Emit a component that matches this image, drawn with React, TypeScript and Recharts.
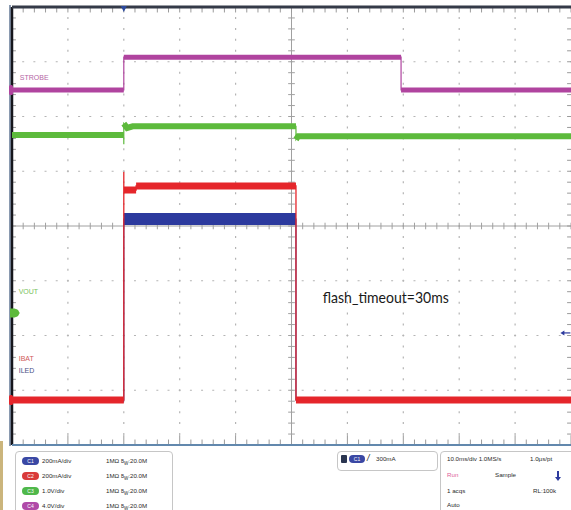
import React from 'react';
import { LineChart, Line, XAxis, YAxis, ReferenceLine, ReferenceDot } from 'recharts';

// ---- axes (time in ms, 10 ms/div; vertical in divisions) ----
const TIME_DOMAIN: [number, number] = [-20, 80];
const DIV_DOMAIN: [number, number] = [-4, 4];
const TIME_GRID = [-10, 0, 10, 20, 40, 50, 60, 70];
const TIME_CENTER = 30;
const DIV_GRID = [-3, -2, -1, 1, 2, 3];

// ---- STROBE (CH4, volts) ----
const strobeTimes = [-20, 0, 0, 49.6, 49.6, 80];
const strobeVolts = [0, 0, 2.4, 2.4, 0, 0];

// ---- VOUT (CH3, volts) ----
const voutTimes = [-20, 0, 0, 0, 0.6, 1.6, 30.8, 30.8, 31.2, 80];
const voutVolts = [3.25, 3.25, 3.08, 3.46, 3.38, 3.41, 3.41, 3.17, 3.23, 3.23];

// ---- IBAT (CH2, mA) ----
const ibatTimes = [-20, 0, 0, 0, 2.2, 2.2, 30.8, 30.8, 80];
const ibatMilliamps = [0, 0, 833, 767, 767, 782, 782, 0, 0];

// ---- ILED (CH1, mA) ----
const iledTimes = [-20, 0, 0, 30.8, 30.8, 80];
const iledMilliamps = [0, 0, 661, 661, 0, 0];

const triggerTime = 0;
const triggerLevelMilliamps = 245;

// ---- channel settings (scale per division, ground offset in divisions) ----
const CH1 = { label: 'ILED', scale: 200, ground: -3.178, color: '#2c3a9e' };
const CH2 = { label: 'IBAT', scale: 200, ground: -3.178, color: '#e5262b' };
const CH3 = { label: 'VOUT', scale: 1, ground: -1.589, color: '#5dba3c' };
const CH4 = { label: 'STROBE', scale: 4, ground: 2.484, color: '#b0449f' };

const panelRows = [
  { ch: 'C1', color: '#3a48a4', scale: '200mA/div' },
  { ch: 'C2', color: '#d93a3a', scale: '200mA/div' },
  { ch: 'C3', color: '#4fb84a', scale: '1.0V/div' },
  { ch: 'C4', color: '#b04aa8', scale: '4.0V/div' },
];

type Pt = { t: number; y: number | null };
type Ch = { scale: number; ground: number; color: string; label: string };

function toDiv(times: number[], vals: number[], ch: Ch): Pt[] {
  return times.map((t, i) => ({ t, y: ch.ground + vals[i] / ch.scale }));
}

// horizontal (non-vertical) segments only, separated by gaps
function bandOf(pts: Pt[], keep: (a: Pt, b: Pt) => boolean = () => true): Pt[] {
  const out: Pt[] = [];
  let last: Pt | null = null;
  for (let i = 0; i < pts.length - 1; i++) {
    const a = pts[i];
    const b = pts[i + 1];
    if (a.t === b.t || !keep(a, b)) continue;
    if (last !== a) {
      if (out.length) out.push({ t: a.t, y: null });
      out.push(a);
    }
    out.push(b);
    last = b;
  }
  return out;
}

const strobe = toDiv(strobeTimes, strobeVolts, CH4);
const vout = toDiv(voutTimes, voutVolts, CH3);
const ibat = toDiv(ibatTimes, ibatMilliamps, CH2);
const iled = toDiv(iledTimes, iledMilliamps, CH1);

const range = (a: number, b: number, step: number) => {
  const r: number[] = [];
  for (let v = a; v <= b + 1e-9; v += step) r.push(Math.round(v * 1000) / 1000);
  return r;
};
const minorT = range(-20, 80, 2);
const minorY = range(-4, 4, 0.2);

const GRID_COLOR = '#b4b4b4';
const CENTER_COLOR = '#a0a0a0';

const txt = (color: string, size: number, extra: any = {}) => ({
  fontFamily: 'Arial, "Liberation Sans", sans-serif',
  fontSize: size,
  fill: color,
  ...extra,
});

const ChannelLabel = (label: string, color: string) => (p: any) => (
  <text x={p.cx} y={p.cy} style={txt(color, 7)}>{label}</text>
);

const GroundTab = (color: string, arrow: boolean) => (p: any) =>
  arrow ? (
    <g>
      <circle cx={p.cx + 3} cy={p.cy} r={4} fill={color} />
      <polygon points={`${p.cx - 2},${p.cy - 4.5} ${p.cx + 3},${p.cy - 4.5} ${p.cx + 8},${p.cy} ${p.cx + 3},${p.cy + 4.5} ${p.cx - 2},${p.cy + 4.5}`} fill={color} />
    </g>
  ) : (
    <rect x={p.cx - 3} y={p.cy - 5} width={4} height={10} rx={1.5} fill={color} />
  );

export default function App() {
  const traceLine = (key: string, data: Pt[], color: string, width: number, opacity = 1) => (
    <Line
      key={key}
      data={data}
      dataKey="y"
      type="linear"
      stroke={color}
      strokeWidth={width}
      strokeOpacity={opacity}
      dot={false}
      activeDot={false}
      connectNulls={false}
      isAnimationActive={false}
      strokeLinecap="butt"
    />
  );

  const isActive = (ch: Ch) => (a: Pt) => Math.abs((a.y as number) - ch.ground) > 0.01;
  const isIdle = (ch: Ch) => (a: Pt) => Math.abs((a.y as number) - ch.ground) <= 0.01;

  return (
    <div style={{ position: 'absolute', left: 0, top: 0, width: 571, height: 510, background: '#fff', overflow: 'hidden', fontFamily: 'Arial, "Liberation Sans", sans-serif' }}>
      {/* left frame strips */}
      <div style={{ position: 'absolute', left: 9, top: 5, width: 2, height: 441, background: '#8a9ab0' }} />
      <div style={{ position: 'absolute', left: 0, top: 441, width: 3, height: 69, background: '#cbb57c' }} />

      <div style={{ position: 'absolute', left: 0, top: 0 }}>
        <LineChart width={571} height={510} margin={{ top: 7, right: 0, bottom: 65, left: 12 }}>
          <XAxis dataKey="t" type="number" domain={TIME_DOMAIN} hide allowDataOverflow />
          <YAxis type="number" domain={DIV_DOMAIN} hide allowDataOverflow />

          {/* dotted graticule */}
          {TIME_GRID.map((t) => (
            <ReferenceLine key={'gx' + t} x={t} stroke={GRID_COLOR} strokeWidth={1.2} strokeDasharray="2 8.95" strokeDashoffset={1} />
          ))}
          {DIV_GRID.map((d) => (
            <ReferenceLine key={'gy' + d} y={d} stroke={GRID_COLOR} strokeWidth={1.2} strokeDasharray="2 9.18" strokeDashoffset={1} />
          ))}

          {/* centre crosshair with minor ticks */}
          <ReferenceLine x={TIME_CENTER} stroke={CENTER_COLOR} strokeWidth={1} />
          <ReferenceLine y={0} stroke={CENTER_COLOR} strokeWidth={1} />
          {minorT.map((t) => (
            <ReferenceLine key={'ct' + t} segment={[{ x: t, y: -0.06 }, { x: t, y: 0.06 }]} stroke={CENTER_COLOR} strokeWidth={1} />
          ))}
          {minorY.map((d) => (
            <ReferenceLine key={'cy' + d} segment={[{ x: TIME_CENTER - 0.6, y: d }, { x: TIME_CENTER + 0.6, y: d }]} stroke={CENTER_COLOR} strokeWidth={1} />
          ))}

          {/* border ticks */}
          {minorT.map((t) => (
            <ReferenceLine key={'tt' + t} segment={[{ x: t, y: 4 }, { x: t, y: 3.9 }]} stroke="#9a9a9a" strokeWidth={1} />
          ))}
          {minorT.map((t) => (
            <ReferenceLine key={'bt' + t} segment={[{ x: t, y: -4 }, { x: t, y: t % 10 === 0 ? -3.82 : -3.9 }]} stroke="#9a9a9a" strokeWidth={1} />
          ))}
          {minorY.map((d) => (
            <ReferenceLine key={'lt' + d} segment={[{ x: -20, y: d }, { x: -19.3, y: d }]} stroke="#9a9a9a" strokeWidth={1} />
          ))}
          {minorY.map((d) => (
            <ReferenceLine key={'rt' + d} segment={[{ x: 79.3, y: d }, { x: 80, y: d }]} stroke="#9a9a9a" strokeWidth={1} />
          ))}

          {/* frame */}
          <ReferenceLine x={-20} stroke="#15161c" strokeWidth={2.5} />
          <ReferenceLine y={4} stroke="#343a48" strokeWidth={3} />
          <ReferenceLine y={-4} stroke="#6288ad" strokeWidth={2} />

          {/* traces */}
          {traceLine('iledIdle', bandOf(iled, isIdle(CH1)), CH1.color, 5)}
          {traceLine('iledBand', bandOf(iled, isActive(CH1)), CH1.color, 12)}
          {traceLine('iledThin', iled, CH1.color, 1.2)}
          {traceLine('ibatBand', bandOf(ibat), CH2.color, 7)}
          {traceLine('ibatThin', ibat, CH2.color, 1.3)}
          {traceLine('voutBand', bandOf(vout), CH3.color, 6)}
          {traceLine('voutThin', vout, CH3.color, 1.2)}
          {traceLine('strobeBand', bandOf(strobe), CH4.color, 5)}
          {traceLine('strobeThin', strobe, CH4.color, 1.2)}

          {/* channel labels */}
          <ReferenceDot x={-18.6} y={2.67} r={0} shape={ChannelLabel(CH4.label, '#b565a5')} />
          <ReferenceDot x={-18.8} y={-1.25} r={0} shape={ChannelLabel(CH3.label, '#79bf5c')} />
          <ReferenceDot x={-18.8} y={-2.466} r={0} shape={ChannelLabel(CH2.label, '#d05a5a')} />
          <ReferenceDot x={-18.8} y={-2.676} r={0} shape={ChannelLabel(CH1.label, '#4a4f86')} />

          {/* ground markers */}
          <ReferenceDot x={-20} y={CH4.ground} r={0} shape={GroundTab(CH4.color, false)} />
          <ReferenceDot x={-20} y={CH3.ground} r={0} shape={GroundTab(CH3.color, true)} />
          <ReferenceDot x={-20} y={CH2.ground} r={0} shape={GroundTab(CH2.color, false)} />

          {/* trigger position marker */}
          <ReferenceDot
            x={triggerTime}
            y={4}
            r={0}
            shape={(p: any) => (
              <polygon points={`${p.cx - 3},${p.cy - 1} ${p.cx + 3},${p.cy - 1} ${p.cx},${p.cy + 5}`} fill="#2c4a9e" />
            )}
          />
          {/* trigger level marker */}
          <ReferenceDot
            x={78.1}
            y={CH1.ground + triggerLevelMilliamps / CH1.scale}
            r={0}
            shape={(p: any) => (
              <g>
                <line x1={p.cx + 2} y1={p.cy} x2={p.cx + 10} y2={p.cy} stroke="#2c3a9e" strokeWidth={1.2} />
                <polygon points={`${p.cx},${p.cy} ${p.cx + 4},${p.cy - 2.5} ${p.cx + 4},${p.cy + 2.5}`} fill="#2c3a9e" />
              </g>
            )}
          />

          {/* annotation */}
          <ReferenceDot
            x={35.6}
            y={-1.406}
            r={0}
            shape={(p: any) => (
              <text x={p.cx} y={p.cy} textLength={126} lengthAdjust="spacingAndGlyphs" style={{ fontFamily: 'Lato, "Open Sans", sans-serif', fontSize: 16, fill: '#1a1a1a' }}>
                flash_timeout=30ms
              </text>
            )}
          />
        </LineChart>
      </div>

      {/* channel readout panel */}
      <div style={{ position: 'absolute', left: 15, top: 451, width: 156, height: 70, border: '1px solid #c6c6c6', borderRadius: 4, background: '#fff' }}>
        {panelRows.map((r, i) => (
          <div key={r.ch} style={{ position: 'absolute', left: 0, top: 5 + i * 15, height: 9, width: 156 }}>
            <div style={{ position: 'absolute', left: 6, top: 0, width: 17, height: 8, borderRadius: 4, background: r.color, color: '#fff', fontSize: 5, lineHeight: '8px', textAlign: 'center' }}>{r.ch}</div>
            <div style={{ position: 'absolute', left: 26, top: -1, fontSize: 6.2, lineHeight: '10px', color: '#2a2a2a', whiteSpace: 'nowrap' }}>{r.scale}</div>
            <div style={{ position: 'absolute', left: 90, top: -1, fontSize: 6.2, lineHeight: '10px', color: '#2a2a2a', whiteSpace: 'nowrap' }}>
              1MΩ <span style={{ fontSize: 4.5 }}>B</span><span style={{ fontSize: 4.5, verticalAlign: 'sub' }}>W</span>:20.0M
            </div>
          </div>
        ))}
      </div>

      {/* trigger panel */}
      <div style={{ position: 'absolute', left: 337, top: 451, width: 99, height: 18, border: '1px solid #c6c6c6', borderRadius: 4, background: '#fff' }}>
        <div style={{ position: 'absolute', left: 3, top: 3, width: 6, height: 8, background: '#2a3550', borderRadius: 1 }} />
        <div style={{ position: 'absolute', left: 11, top: 3, width: 16, height: 8, borderRadius: 4, background: '#3a48a4', color: '#fff', fontSize: 5, lineHeight: '8px', textAlign: 'center' }}>C1</div>
        <div style={{ position: 'absolute', left: 29, top: 1, fontSize: 9, lineHeight: '11px', color: '#2a2a2a', fontStyle: 'italic' }}>/</div>
        <div style={{ position: 'absolute', left: 38, top: 2, fontSize: 6.2, lineHeight: '10px', color: '#2a2a2a' }}>300mA</div>
      </div>

      {/* timebase panel */}
      <div style={{ position: 'absolute', left: 440, top: 451, width: 140, height: 70, border: '1px solid #c6c6c6', borderRadius: 4, background: '#fff', fontSize: 6.2, color: '#2a2a2a' }}>
        <div style={{ position: 'absolute', left: 6, top: 2, lineHeight: '10px', whiteSpace: 'nowrap' }}>10.0ms/div 1.0MS/s</div>
        <div style={{ position: 'absolute', left: 89, top: 2, lineHeight: '10px', whiteSpace: 'nowrap' }}>1.0µs/pt</div>
        <div style={{ position: 'absolute', left: 6, top: 18, lineHeight: '10px', color: '#e0609a' }}>Run</div>
        <div style={{ position: 'absolute', left: 54, top: 18, lineHeight: '10px' }}>Sample</div>
        <div style={{ position: 'absolute', left: 116, top: 19, width: 2, height: 6, background: '#2c3a9e' }} />
        <div style={{ position: 'absolute', left: 114, top: 25, width: 0, height: 0, borderLeft: '3px solid transparent', borderRight: '3px solid transparent', borderTop: '4px solid #2c3a9e' }} />
        <div style={{ position: 'absolute', left: 6, top: 34, lineHeight: '10px' }}>1 acqs</div>
        <div style={{ position: 'absolute', left: 92, top: 34, lineHeight: '10px' }}>RL:100k</div>
        <div style={{ position: 'absolute', left: 6, top: 48, lineHeight: '10px' }}>Auto</div>
      </div>
    </div>
  );
}
